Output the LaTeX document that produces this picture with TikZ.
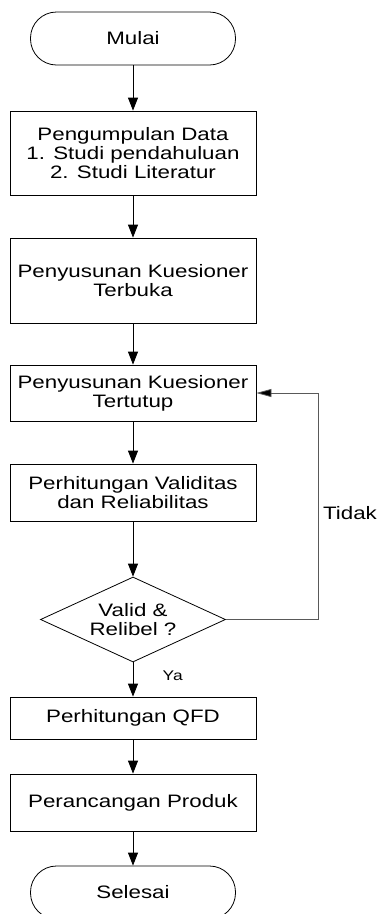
\documentclass[tikz,border=0pt]{standalone}
\usepackage{fontspec}
\setmainfont{Liberation Sans}[FakeStretch=1.24]
\usetikzlibrary{shapes.geometric,arrows.meta}
\definecolor{loopgray}{gray}{0.35}
\begin{document}
\begin{tikzpicture}[x = 1pt, y = -1pt, line width = 0.8pt,
	proses/.style = {draw, minimum width = 246pt, align = center, inner sep = 0pt, font = \fontsize{18}{19}\selectfont},
	terminal/.style = {draw, rounded corners = 26pt, minimum width = 205pt, minimum height = 53pt, font = \fontsize{18}{19}\selectfont},
	keputusan/.style = {draw, diamond, aspect = 2.2, inner sep = 0pt, minimum width = 185pt, minimum height = 85pt, align = center, font = \fontsize{18}{19}\selectfont},
	panah/.style = {-{Triangle[length = 13pt, width = 10pt]}}]
	\useasboundingbox (0,0) rectangle (377,914);
	\node [terminal] (mulai) at (133,38.5) {Mulai};
	\node [proses, minimum height = 84pt] (data) at (133,153) {Pengumpulan Data\\1. Studi pendahuluan\\2. Studi Literatur};
	\node [proses, minimum height = 85pt] (terbuka) at (133,280.5) {Penyusunan Kuesioner\\Terbuka};
	\node [proses, minimum height = 56pt] (tertutup) at (133,393) {Penyusunan Kuesioner\\Tertutup};
	\node [proses, minimum height = 57pt] (validitas) at (133,492.5) {Perhitungan Validitas\\dan Reliabilitas};
	\node [keputusan] (valid) at (133,619.5) {Valid \&\\Relibel ?};
	\node [proses, minimum height = 42pt] (qfd) at (133,718) {Perhitungan QFD};
	\node [proses, minimum height = 57pt] (produk) at (133,802.5) {Perancangan Produk};
	\node [terminal] (selesai) at (133,892.5) {Selesai};
	\draw [panah] (mulai) -- (data);
	\draw [panah] (data) -- (terbuka);
	\draw [panah] (terbuka) -- (tertutup);
	\draw [panah] (tertutup) -- (validitas);
	\draw [panah] (validitas) -- (valid);
	\draw [panah] (valid) -- (qfd) node [pos = 0.4, right = 26pt, font = \fontsize{14}{14}\selectfont] (ya) {Ya};
	\draw [panah] (qfd) -- (produk);
	\draw [panah] (produk) -- (selesai);
	% jalur kembali jika tidak valid
	\coordinate (balik) at (318,393);
	\draw [draw = loopgray, -{Triangle[length = 15pt, width = 8pt, fill = black]}] (valid.east) -| (balik) -- (tertutup.east);
	\node (tidak) at (350,513) {\fontsize{18}{19}\selectfont Tidak};
\end{tikzpicture}
\end{document}
